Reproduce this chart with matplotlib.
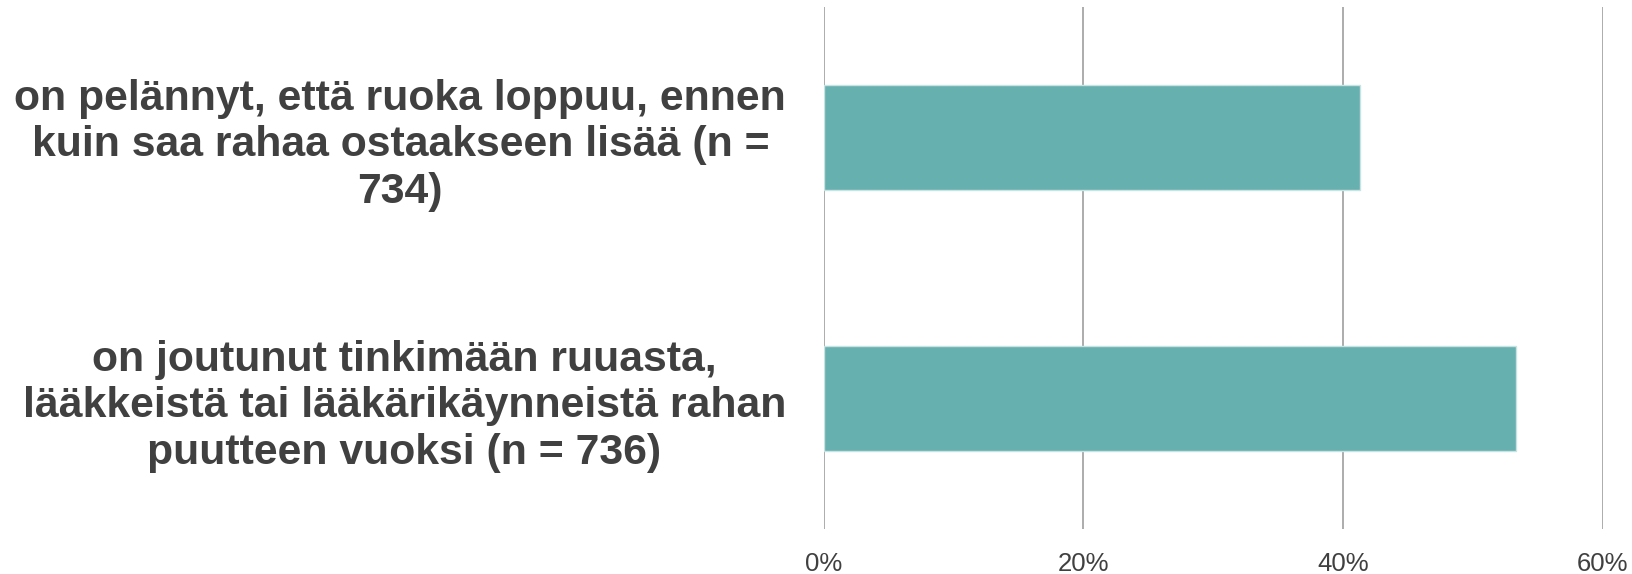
import matplotlib
matplotlib.use("Agg")
import matplotlib.pyplot as plt
from matplotlib.ticker import FuncFormatter

categories = [
    "on pelännyt, että ruoka loppuu, ennen\nkuin saa rahaa ostaakseen lisää (n =\n734)",
    "on joutunut tinkimään ruuasta,\nlääkkeistä tai lääkärikäynneistä rahan\npuutteen vuoksi (n = 736)",
]
values = [41.3, 53.3]
xticks = [0, 20, 40, 60]

plt.rcParams['font.family'] = ['Liberation Sans', 'DejaVu Sans']

fig = plt.figure(figsize=(16.32, 5.74), dpi=100)
ax = fig.add_axes([823.7 / 1632, 1 - 529 / 574, (1603 - 823.7) / 1632, (529 - 7) / 574])

pos = list(range(len(categories)))
ax.barh(pos, values, height=0.4, color="#67B0B0", edgecolor="#C9E3E3", linewidth=1, zorder=3)

ax.set_xlim(0, 60)
ax.set_ylim(1.5, -0.5)
ax.set_xticks(xticks)
ax.xaxis.set_major_formatter(FuncFormatter(lambda v, p: f"{v:.0f}%"))
ax.grid(axis="x", color="#A6A6A6", linewidth=1.3, zorder=0)
ax.set_axisbelow(True)
for s in ax.spines.values():
    s.set_visible(False)

ax.set_yticks(pos)
ax.set_yticklabels(categories, fontsize=30.8, fontweight="bold", color="#404040",
                   ha="right", multialignment="center", linespacing=1.21)
ax.tick_params(axis="y", length=0, pad=27)
ax.tick_params(axis="x", length=0, pad=16.5, labelsize=18.5, labelcolor="#404040")

fig.savefig("out.png", dpi=100)
